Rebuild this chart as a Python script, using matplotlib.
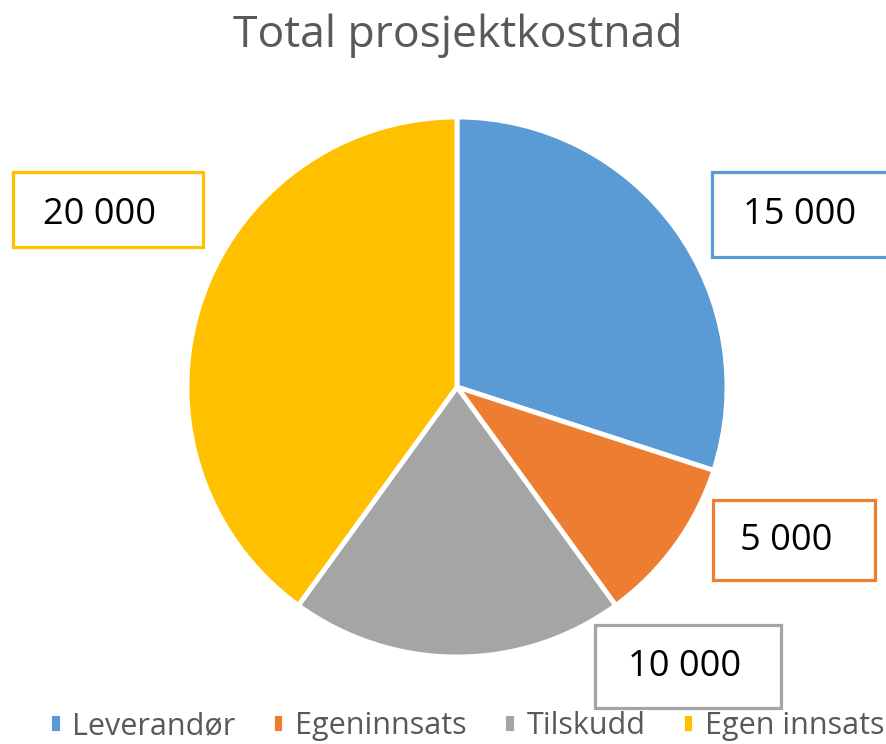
import matplotlib.pyplot as plt
from matplotlib.patches import Rectangle

labels = ['Leverandør', 'Egeninnsats', 'Tilskudd', 'Egen innsats']
values = [15000, 5000, 10000, 20000]
value_text = ['15 000', '5 000', '10 000', '20 000']
colors = ['#5B9BD5', '#ED7D31', '#A5A5A5', '#FFC000']

W, H = 886, 744
fig = plt.figure(figsize=(W / 100, H / 100), dpi=100)
ax = fig.add_axes([0, 0, 1, 1])

font = ['Open Sans', 'DejaVu Sans']

wedges, _ = ax.pie(values, colors=colors, startangle=90, counterclock=False,
                   center=(457, H - 387), radius=270,
                   wedgeprops=dict(edgecolor='white', linewidth=3.5),
                   frame=True)
ax.set_xlim(0, W)
ax.set_ylim(0, H)
ax.axis('off')

# label boxes (x0, y0, x1, y1 in pixel coords from top)
boxes = [(712, 172, 900, 257), (713, 500, 875, 580),
         (595, 625, 781, 708), (13, 172, 203, 247)]
text_pos = [(800, 215), (786, 541), (685, 667), (100, 215)]
for (x0, y0, x1, y1), (tx, ty), t, c in zip(boxes, text_pos, value_text, colors):
    ax.add_patch(Rectangle((x0, H - y1), x1 - x0, y1 - y0, facecolor='white',
                           edgecolor=c, linewidth=2.3, zorder=5))
    ax.text(tx, H - ty, t, ha='center', va='center', fontsize=26,
            family=font, color='black', zorder=6)

ax.text(458, H - 35, 'Total prosjektkostnad', ha='center', va='center',
        fontsize=32, family=font, color='#595959')

leg = ax.legend(wedges, labels, loc='lower center', bbox_to_anchor=(0.527, 0.0),
                bbox_transform=fig.transFigure, ncol=4, frameon=False,
                prop={'family': font, 'size': 22}, labelcolor='#595959',
                handlelength=0.4, handleheight=0.65, handletextpad=0.35,
                columnspacing=1.2, borderaxespad=0, borderpad=0.1)

fig.savefig('out.png', dpi=100)
